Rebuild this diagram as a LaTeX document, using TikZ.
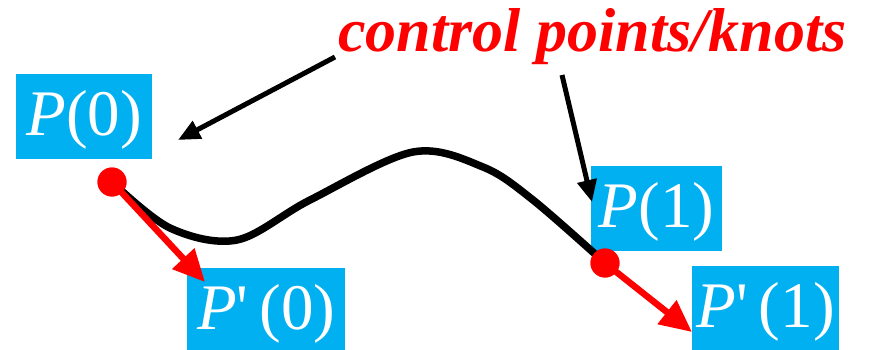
\documentclass[tikz,border=0pt]{standalone}
\usepackage{fontspec}
\setmainfont{Liberation Serif}
\usetikzlibrary{arrows.meta}
\definecolor{boxblue}{RGB}{0,176,240}
\begin{document}
\begin{tikzpicture}[x=1pt,y=-1pt,
  lbl/.style={fill=boxblue, text=white, anchor=north west, inner xsep=0pt, inner ysep=0pt,
    text height=61pt, text depth=24pt, font=\fontsize{65}{65}\selectfont},
  knot/.style={circle, fill=red, inner sep=0pt, minimum size=29pt},
  tangent/.style={red, line width=6.5pt, -{Triangle[length=32pt,width=29pt]}},
  pointer/.style={black, line width=5pt, -{Triangle[length=22pt,width=19pt]}},
  curve/.style={black, line width=7.5pt, line join=round, line cap=round}]
\useasboundingbox (0,0) rectangle (869,350);
\clip (0,0) rectangle (869,350);

% labels
\node[lbl, minimum width=136pt] (p0)  at (16,74)   {\textit{P}(0)};
\node[lbl, minimum width=131pt] (p1)  at (591,166) {\textit{P}(1)};
\node[lbl, minimum width=158pt] (dp0) at (187,268) {\textit{P}\textquotesingle\,(0)};
\node[lbl, minimum width=147pt] (dp1) at (692,266) {\textit{P}\textquotesingle\,(1)};

\node[anchor=base west, inner sep=0pt, text=red,
      font=\fontsize{62}{62}\selectfont\bfseries\itshape] (title) at (338,52) {control points/knots};

% knots
\node[knot] (k0) at (112,182) {};
\node[knot] (k1) at (605,263) {};

% the curve between the knots
\draw[curve] plot[smooth, tension=0.55] coordinates
  {(k0.center) (170,228) (237,240) (310,200) (413,152) (483,167) (533,200) (k1.center)};

% tangent vectors
\coordinate (t0) at (205,282);
\coordinate (t1) at (692,332);
\draw[tangent] (k0.center) -- (t0);
\draw[tangent] (k1.center) -- (t1);

% redraw knots on top
\node[knot] at (k0) {};
\node[knot] at (k1) {};

% pointers from the title
\coordinate (s0) at (335,57);
\coordinate (e0) at (178,140);
\coordinate (s1) at (562,75);
\coordinate (e1) at (592,202);
\draw[pointer] (s0) -- (e0);
\draw[pointer] (s1) -- (e1);
\end{tikzpicture}
\end{document}
